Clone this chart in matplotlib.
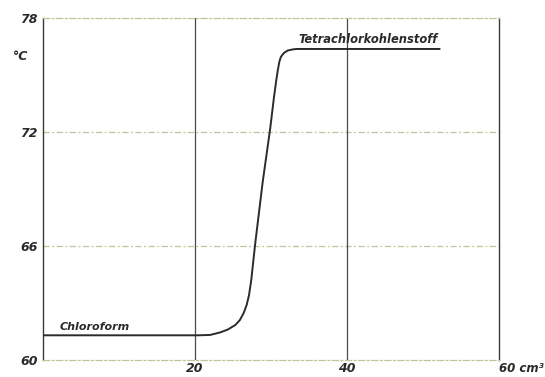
import matplotlib
matplotlib.use("Agg")
import matplotlib.pyplot as plt
import numpy as np

# Siedekurve: Volumen Destillat (cm3) gegen Temperatur (°C)
volumen = [0, 20.5, 22.0, 23.3, 24.3, 25.3, 25.9, 26.4, 26.8, 27.1, 27.4,
           27.9, 28.9, 29.9, 30.4, 30.7, 30.9, 31.1, 31.3, 31.7, 32.2,
           32.9, 33.4, 52.2]
temperatur = [61.3, 61.3, 61.32, 61.45, 61.6, 61.84, 62.1, 62.47, 62.9, 63.4, 64.2,
              66.05, 69.35, 72.2, 73.86, 74.74, 75.26, 75.7, 75.95, 76.16, 76.29,
              76.35, 76.37, 76.37]

x_ticks = [20, 40, 60]
x_labels = ["20", "40", "60 cm³"]
y_ticks = [60, 66, 72, 78]
y_labels = ["60", "66", "72", "78"]

fig = plt.figure(figsize=(5.45, 3.77), dpi=100)
ax = fig.add_axes([43/545, 17/377, 456/545, 342/377])
ax.set_xlim(0, 60)
ax.set_ylim(60, 78)

schrift = dict(family="DejaVu Sans", style="italic", weight="bold", color="#2a2a2a")
gitter = "#c4c49a"

# Gitterlinien: waagerecht gestrichelt, senkrecht durchgezogen
for y in y_ticks[1:-1]:
    ax.axhline(y, color=gitter, lw=0.9, ls=(0, (5, 2, 1.5, 2)), zorder=1)
for x in x_ticks[:-1]:
    ax.axvline(x, color="#4a4a4a", lw=0.9, zorder=1)

for s in ["top", "bottom"]:
    ax.spines[s].set_color(gitter)
    ax.spines[s].set_linestyle((0, (5, 2, 1.5, 2)))
    ax.spines[s].set_linewidth(0.9)
for s in ["left", "right"]:
    ax.spines[s].set_color("#3a3a3a")
    ax.spines[s].set_linewidth(1.0)

ax.plot(volumen, temperatur, color="#2b2b2b", lw=1.4,
        solid_capstyle="round", solid_joinstyle="round", zorder=3)

ax.set_xticks(x_ticks)
ax.set_xticklabels(x_labels, fontsize=9, **schrift)
ax.set_yticks(y_ticks)
ax.set_yticklabels(y_labels, fontsize=9, **schrift)
ax.tick_params(axis="y", length=0, pad=4)
ax.tick_params(axis="x", length=0, pad=1.5)
# letzte Beschriftung mit Einheit, nach links verschoben damit sie ins Bild passt
letzte = ax.xaxis.get_ticklabels()[-1]
letzte.set_horizontalalignment("left")
letzte.set_x(58.3)
letzte.set_fontsize(8.5)

ax.text(-3.0, 76.0, "°C", fontsize=9, ha="center", va="center", **schrift)
ax.text(2.2, 61.5, "Chloroform", fontsize=8, ha="left", va="bottom", **schrift)
ax.text(33.6, 76.55, "Tetrachlorkohlenstoff", fontsize=8.3, ha="left", va="bottom", **schrift)

fig.savefig("out.png", dpi=100)
